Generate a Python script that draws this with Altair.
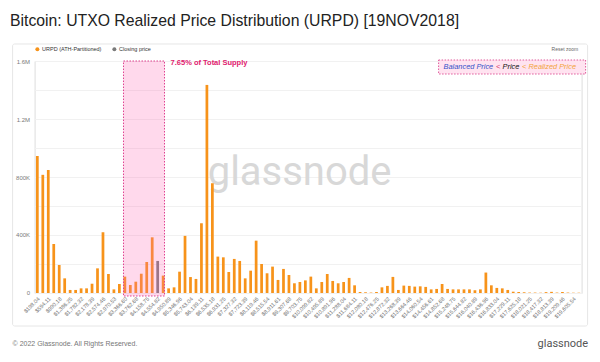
import altair as alt
import pandas as pd

# ---------------- data ----------------
prices = [
    "$198.04", "$396.07", "$594.11", "$792.14", "$990.18", "$1,188.21", "$1,386.25", "$1,584.29",
    "$1,782.32", "$1,980.36", "$2,178.39", "$2,376.43", "$2,574.46", "$2,772.50", "$2,970.53",
    "$3,168.57", "$3,366.60", "$3,564.64", "$3,762.68", "$3,960.72", "$4,158.75", "$4,356.79",
    "$4,554.82", "$4,752.86", "$4,950.89", "$5,148.93", "$5,346.96", "$5,545.00", "$5,743.04",
    "$5,941.07", "$6,139.11", "$6,337.14", "$6,535.18", "$6,733.22", "$6,931.25", "$7,129.29",
    "$7,327.32", "$7,525.36", "$7,723.39", "$7,921.43", "$8,119.46", "$8,317.50", "$8,515.54",
    "$8,713.57", "$8,911.61", "$9,109.64", "$9,307.68", "$9,505.72", "$9,703.75", "$9,901.79",
    "$10,099.82", "$10,297.86", "$10,495.89", "$10,693.93", "$10,891.96", "$11,090.00",
    "$11,288.04", "$11,486.07", "$11,684.11", "$11,882.15", "$12,080.18", "$12,278.22",
    "$12,476.25", "$12,674.29", "$12,872.32", "$13,070.36", "$13,268.39", "$13,466.43",
    "$13,664.46", "$13,862.50", "$14,060.54", "$14,258.57", "$14,456.61", "$14,654.65",
    "$14,852.68", "$15,050.72", "$15,248.75", "$15,446.79", "$15,644.82", "$15,842.86",
    "$16,040.89", "$16,238.93", "$16,436.96", "$16,635.00", "$16,833.04", "$17,031.07",
    "$17,229.11", "$17,427.15", "$17,625.18", "$17,823.22", "$18,021.25", "$18,219.29",
    "$18,417.32", "$18,615.36", "$18,813.39", "$19,011.43", "$19,209.46", "$19,407.50",
    "$19,605.54", "$19,803.58",
]

# supply per bucket, in thousands of BTC
supply_k = [
    945, 815, 849, 338, 193, 101, 21, 21, 32, 32,
    64, 170, 419, 131, 25, 62, 113, 55, 78, 133,
    214, 384, 221, 120, 32, 39, 147, 394, 110, 97,
    481, 1435, 757, 251, 246, 145, 235, 221, 101, 154,
    361, 200, 136, 182, 90, 166, 124, 67, 76, 87,
    113, 32, 76, 131, 83, 67, 76, 104, 53, 7,
    5, 3, 7, 39, 49, 111, 21, 51, 49, 44,
    46, 42, 25, 28, 62, 28, 25, 25, 25, 25,
    19, 25, 141, 53, 35, 32, 21, 9, 7, 5,
    3, 3, 2, 6, 8, 3, 7, 3, 2, 2,
]

closing_price_bucket = "$4,554.82"
band_start = "$3,366.60"
band_end = "$4,752.86"
series_names = ["URPD (ATH-Partitioned)", "Closing price"]
series_colors = ["#f7931a", "#7a7a7a"]

y_ticks = [0, 200000, 400000, 600000, 800000, 1000000, 1200000, 1400000, 1600000]
y_tick_labels = {0: "0", 400000: "400K", 800000: "800K", 1200000: "1.2M", 1600000: "1.6M"}

title_text = "Bitcoin: UTXO Realized Price Distribution (URPD) [19NOV2018]"
annotation_text = "7.65% of Total Supply"
regime_parts = ["Balanced Price", "<", "Price", "< Realized Price"]
regime_colors = ["#3352c9", "#d6336c", "#111111", "#f2a33a"]

# ---------------- tables ----------------
df = pd.DataFrame({
    "price": prices,
    "supply": [v * 1000 for v in supply_k],
})
df["series"] = [series_names[1] if p == closing_price_bucket else series_names[0] for p in prices]

band_df = pd.DataFrame({"price": [band_start], "price_end": [band_end]})

W, H = 547, 232
FONT = "Liberation Sans"

label_expr = "''"
for v, s in y_tick_labels.items():
    label_expr = f"datum.value == {v} ? '{s}' : ({label_expr})"

x_axis = alt.Axis(
    values=prices[::2], labelAngle=-45, labelFontSize=5.5, labelColor="#6b6b6b",
    labelFont=FONT, ticks=False, domain=False, grid=False, labelPadding=3,
    labelOverlap=False, title=None,
)
x_scale = alt.Scale(domain=prices, paddingInner=0.5, paddingOuter=0.25)

# ---------------- layers ----------------
card = alt.Chart(pd.DataFrame({"a": [0]})).mark_rect(
    fillOpacity=0, stroke="#e6e6e6", strokeWidth=1, cornerRadius=2
).encode(
    x=alt.value(-22), x2=alt.value(553), y=alt.value(-17), y2=alt.value(265)
)

bars = alt.Chart(df).mark_bar().encode(
    x=alt.X("price:N", sort=prices, scale=x_scale, axis=x_axis),
    y=alt.Y(
        "supply:Q",
        scale=alt.Scale(domain=[0, 1600000], nice=False),
        axis=alt.Axis(
            values=y_ticks, labelExpr=label_expr, labelFontSize=6, labelColor="#7a7a7a",
            labelFont=FONT, ticks=False, domain=False, gridColor="#f1f1f1", gridWidth=1,
            labelPadding=5, title=None,
        ),
    ),
    color=alt.Color(
        "series:N",
        scale=alt.Scale(domain=series_names, range=series_colors),
        legend=alt.Legend(
            orient="none", legendX=0, legendY=-15, direction="horizontal", title=None,
            symbolType="circle", symbolSize=16, symbolStrokeWidth=0, labelFontSize=5.5,
            labelFont=FONT, labelColor="#333333", columnPadding=10, labelOffset=2,
        ),
    ),
)

watermark = alt.Chart(pd.DataFrame({"t": ["glassnode"]})).mark_text(
    font="Roboto", fontSize=40, color="#d8d8d8", align="center", baseline="alphabetic"
).encode(text="t:N", x=alt.value(265), y=alt.value(124))

pink = alt.Chart(band_df).mark_rect(
    fill="#ff69b4", fillOpacity=0.25, stroke="#df3f8f", strokeDash=[1.5, 1.5], strokeWidth=1
).encode(
    x=alt.X("price:N", bandPosition=0, sort=prices, scale=x_scale, axis=x_axis),
    x2=alt.X2("price_end", bandPosition=1),
    y=alt.value(0),
    y2=alt.value(H + 3),
)

annot = alt.Chart(pd.DataFrame({"t": [annotation_text]})).mark_text(
    font=FONT, fontSize=7.5, fontWeight="bold", color="#e0206e", align="left", baseline="middle"
).encode(text="t:N", x=alt.value(136), y=alt.value(2))

# top-right regime box
box = alt.Chart(pd.DataFrame({"a": [0]})).mark_rect(
    fill="#ffe3f0", stroke="#e05a9c", strokeDash=[1.5, 1.5], strokeWidth=1
).encode(x=alt.value(404), x2=alt.value(551), y=alt.value(-1), y2=alt.value(13))

regime_x = [409, 461.5, 468, 487.5]
regime_layers = []
for txt, col, xp in zip(regime_parts, regime_colors, regime_x):
    regime_layers.append(
        alt.Chart(pd.DataFrame({"t": [txt]})).mark_text(
            font=FONT, fontSize=7.4, fontStyle="italic", color=col, align="left", baseline="middle"
        ).encode(text="t:N", x=alt.value(xp), y=alt.value(6))
    )

reset = alt.Chart(pd.DataFrame({"t": ["Reset zoom"]})).mark_text(
    font=FONT, fontSize=5, color="#666666", align="left", baseline="middle"
).encode(text="t:N", x=alt.value(517), y=alt.value(-12))

copyright_ = alt.Chart(pd.DataFrame({"t": ["\u00a9 2022 Glassnode. All Rights Reserved."]})).mark_text(
    font=FONT, fontSize=7, color="#777777", align="left", baseline="middle"
).encode(text="t:N", x=alt.value(-22), y=alt.value(283))

logo = alt.Chart(pd.DataFrame({"t": ["glassnode"]})).mark_text(
    font="Roboto", fontSize=11, color="#555555", align="left", baseline="middle"
).encode(text="t:N", x=alt.value(503), y=alt.value(283))

chart = alt.layer(
    card, watermark, bars, pink, annot, box, *regime_layers, reset, copyright_, logo
).properties(
    width=W,
    height=H,
    title=alt.Title(
        title_text, anchor="start", frame="group", fontSize=15.8, fontWeight="normal",
        color="#222222", font=FONT, dx=-24.6, offset=14,
    ),
    autosize=alt.AutoSizeParams(type="none"),
    padding={"left": 26.6, "top": 53, "right": 10, "bottom": 60},
).configure_view(stroke=None).configure(background="white")

chart.save("out.html", embed_options={"renderer": "svg", "actions": False})
